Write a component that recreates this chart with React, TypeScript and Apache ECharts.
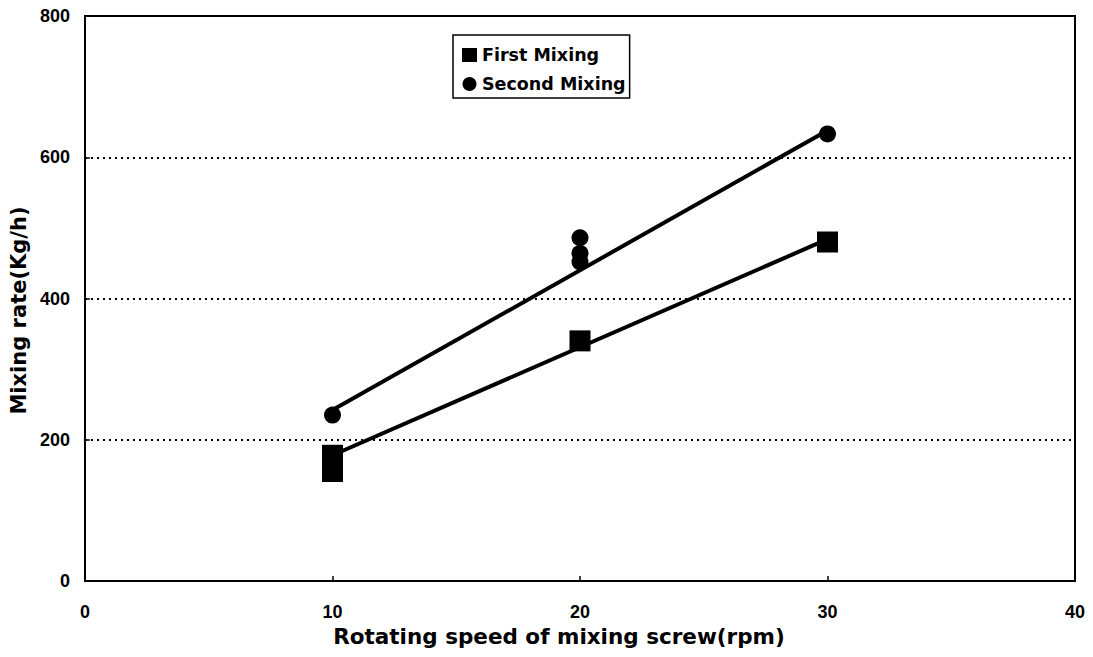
import React, { useEffect, useRef } from "react";
import * as echarts from "echarts";

const xTicks = [0, 10, 20, 30, 40];
const yTicks = [0, 200, 400, 600, 800];
const firstMixing: [number, number][] = [[10, 178], [10, 155], [20, 340], [30, 480]];
const secondMixing: [number, number][] = [[10, 235], [20, 486], [20, 464], [20, 452], [30, 633]];
const firstTrend: [number, number][] = [[10, 178], [30, 484]];
const secondTrend: [number, number][] = [[10, 242], [30, 638]];
const seriesNames = ["First Mixing", "Second Mixing"];

export default function App() {
  const ref = useRef<HTMLDivElement>(null);
  useEffect(() => {
    document.body.style.margin = "0";
    if (!ref.current) return;
    const chart = echarts.init(ref.current, undefined, { renderer: "svg" });
    const tickFont = { color: "#000", fontFamily: "Liberation Sans, Arial", fontWeight: "bold" as const, fontSize: 18 };
    const titleFont = { color: "#000", fontFamily: "DejaVu Sans", fontWeight: "bold" as const };
    chart.setOption({
      animation: false,
      backgroundColor: "#fff",
      grid: { left: 85, right: 18, top: 16, bottom: 76, show: true, borderColor: "#000", borderWidth: 2, backgroundColor: "transparent" },
      legend: {
        orient: "vertical",
        left: 453,
        top: 35,
        padding: [11, 4, 5, 9],
        itemWidth: 15,
        itemHeight: 14,
        itemGap: 11,
        itemTextGap: 5,
        borderColor: "#000",
        borderWidth: 1.5,
        textStyle: { color: "#000", fontFamily: "DejaVu Sans", fontWeight: "bold", fontSize: 17.5, lineHeight: 18 },
        data: [
          { name: seriesNames[0], icon: "rect", itemStyle: { color: "#000", opacity: 1 } },
          { name: seriesNames[1], icon: "circle", itemStyle: { color: "#000", opacity: 1 } },
        ],
      },
      xAxis: {
        type: "value",
        min: xTicks[0],
        max: xTicks[xTicks.length - 1],
        interval: 10,
        name: "Rotating speed of mixing screw(rpm)",
        nameLocation: "middle",
        nameGap: 38,
        nameTextStyle: { ...titleFont, fontSize: 21.5, padding: [0, 42, 0, 0] },
        axisLine: { show: true, lineStyle: { color: "#000", width: 2 } },
        axisTick: { show: true, inside: true, length: 5, lineStyle: { color: "#000", width: 1.5 } },
        axisLabel: { ...tickFont, margin: 22 },
        splitLine: { show: false },
      },
      yAxis: {
        type: "value",
        min: yTicks[0],
        max: yTicks[yTicks.length - 1],
        interval: 200,
        name: "Mixing rate(Kg/h)",
        nameLocation: "middle",
        nameGap: 50,
        nameTextStyle: { ...titleFont, fontSize: 21, padding: [0, 24, 0, 0] },
        axisLine: { show: true, lineStyle: { color: "#000", width: 2 } },
        axisTick: { show: true, inside: true, length: 5, lineStyle: { color: "#000", width: 1.5 } },
        axisLabel: { ...tickFont, margin: 15 },
        splitLine: { show: true, lineStyle: { color: "#000", width: 2, type: [2, 4] } },
      },
      series: [
        {
          name: "First trend",
          type: "line",
          data: firstTrend,
          showSymbol: false,
          symbol: "none",
          lineStyle: { color: "#000", width: 4 },
          z: 2,
        },
        {
          name: "Second trend",
          type: "line",
          data: secondTrend,
          showSymbol: false,
          symbol: "none",
          lineStyle: { color: "#000", width: 4 },
          z: 2,
        },
        {
          name: seriesNames[0],
          type: "scatter",
          symbol: "rect",
          symbolSize: 21,
          itemStyle: { color: "#000", opacity: 1 },
          data: firstMixing,
          z: 3,
        },
        {
          name: seriesNames[1],
          type: "scatter",
          symbol: "circle",
          symbolSize: 17,
          itemStyle: { color: "#000", opacity: 1 },
          data: secondMixing,
          z: 3,
        },
      ],
    });
    return () => chart.dispose();
  }, []);
  return <div ref={ref} style={{ width: 1093, height: 657 }} />;
}
